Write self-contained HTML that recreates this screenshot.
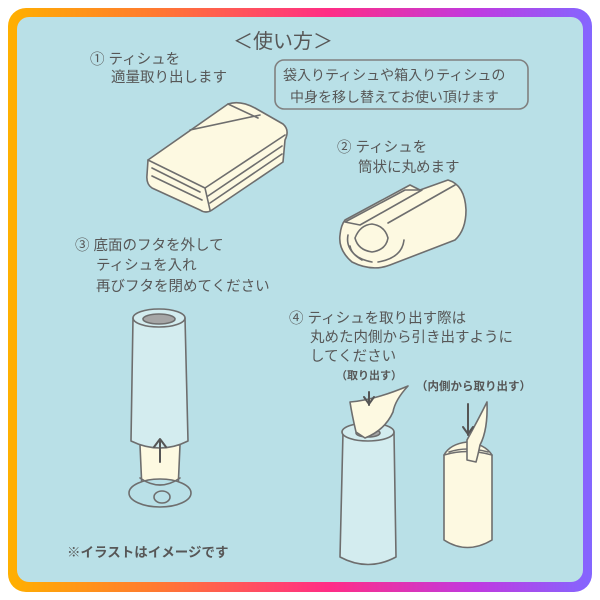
<!DOCTYPE html>
<html><head><meta charset="utf-8"><style>
html,body{margin:0;padding:0;background:#fff;}
body{width:600px;height:600px;position:relative;overflow:hidden;font-family:"Liberation Sans","Noto Sans CJK JP",sans-serif;color:#555;}
.frame{position:absolute;left:8px;top:8px;width:584px;height:584px;border-radius:18px;background:linear-gradient(90deg,#ffb000 0%,#ff7a30 25%,#ff2d86 55%,#c03ae0 80%,#8466ff 100%);}
.panel{position:absolute;left:17px;top:17px;width:566px;height:565px;border-radius:12px;background:#b9e0e7;}
.t{position:absolute;white-space:nowrap;font-size:14.5px;line-height:20px;color:#575757;}
svg{position:absolute;left:0;top:0;}
</style></head><body>
<div class="frame"></div><div class="panel"></div>
<svg width="600" height="600" viewBox="0 0 600 600" fill="none" stroke="#6e6e6e" stroke-width="1.6" stroke-linejoin="round" stroke-linecap="round">
<rect x="275" y="60" width="253" height="49" rx="9" stroke="#808080"/>
<path d="M148 160 L228 104 Q240 100 255 108 L283 124 Q290 130 285 140 L283 162 L212 210 Q206 214 200 210 L152 188 Q146 184 147 175 Z" fill="#fdf9e1"/>
<path d="M148 160 L205 188 L285 135 M205 188 L210 210 M190 130 L260 115 M228 104 L258 118" />
<path d="M152 168 L200 192 M152 176 L202 200 M208 196 L282 146 M210 203 L282 154"/>
<path d="M345 220 L410 185 L420 190 L448 180 Q465 185 466 210 Q466 230 455 240 L390 265 Q372 272 352 262 Q338 250 340 235 Q341 225 345 220 Z" fill="#fdf9e1"/>
<path d="M345 222 L405 190 L422 190 L360 225 Z"/>
<path d="M355 238 Q360 225 372 224 Q385 226 388 238 Q386 250 372 252 Q358 250 355 238 Z"/>
<path d="M388 223 L455 185 M362 260 Q345 250 348 235 M378 262 Q402 258 404 240 M350 246 Q352 258 372 262"/>
<path d="M142 490 L140 445 L180 445 L178 490 Z" fill="#fdf9e1"/>
<ellipse cx="160" cy="493" rx="31" ry="14" fill="#b9e0e7"/>
<path d="M140 478 Q160 492 180 478" />
<ellipse cx="162" cy="497" rx="8" ry="6" fill="#b9e0e7"/>
<path d="M133 318 L131 441 Q160 455 188 441 L185 318 Z" fill="#d3ecef"/>
<ellipse cx="159" cy="318" rx="26" ry="9" fill="#d3ecef"/>
<ellipse cx="159" cy="319" rx="16" ry="5" fill="#a6a6a6"/>
<path d="M160 462 L160 440 M154 447 L160 439 L166 447" stroke="#555" stroke-width="2"/>
<path d="M343 432 L340 557 Q368 572 396 557 L394 432 Z" fill="#d3ecef"/>
<ellipse cx="368" cy="432" rx="26" ry="9" fill="#d3ecef"/>
<ellipse cx="368" cy="433" rx="12" ry="4" fill="#a6a6a6"/>
<path d="M356 432 Q352 415 350 402 Q375 400 408 386 Q395 400 393 412 Q385 430 365 438 Z" fill="#fdf9e1"/>
<path d="M369 405 L369 392 M364 397 L369 404 L374 397" stroke="#555" stroke-width="2"/>
<path d="M444 455 L444 540 Q467 555 492 540 L492 455 Q485 444 467 442 Q450 444 444 455 Z" fill="#fdf9e1"/>
<path d="M444 455 Q467 448 492 455 M449 452 Q467 446 488 452"/>
<path d="M467 460 L467 440 Q478 420 487 402 Q488 430 480 445 Q478 455 476 462 Z" fill="#fdf9e1"/>
<path d="M468 435 L468 404 M463 427 L468 434 L473 427" stroke="#555" stroke-width="2"/>
</svg>
<div class="t" style="left:233px;top:30px;font-size:20px;line-height:24px;">＜使い方＞</div>
<div class="t" style="left:90px;top:50px;">① ティシュを</div>
<div class="t" style="left:111px;top:68px;">適量取り出します</div>
<div class="t" style="left:283px;top:65px;font-size:14px;">袋入りティシュや箱入りティシュの</div>
<div class="t" style="left:290px;top:87px;font-size:14px;">中身を移し替えてお使い頂けます</div>
<div class="t" style="left:337px;top:138px;">② ティシュを</div>
<div class="t" style="left:358px;top:158px;">筒状に丸めます</div>
<div class="t" style="left:75px;top:236px;">③ 底面のフタを外して</div>
<div class="t" style="left:96px;top:256px;">ティシュを入れ</div>
<div class="t" style="left:96px;top:277px;">再びフタを閉めてください</div>
<div class="t" style="left:289px;top:309px;">④ ティシュを取り出す際は</div>
<div class="t" style="left:310px;top:328px;">丸めた内側から引き出すように</div>
<div class="t" style="left:310px;top:347px;">してください</div>
<div class="t" style="left:336px;top:369px;font-size:11px;line-height:15px;font-weight:bold;">（取り出す）</div>
<div class="t" style="left:416px;top:380px;font-size:11.5px;line-height:15px;font-weight:bold;">（内側から取り出す）</div>
<div class="t" style="left:67px;top:543px;font-size:13.5px;font-weight:bold;">※イラストはイメージです</div>
</body></html>
